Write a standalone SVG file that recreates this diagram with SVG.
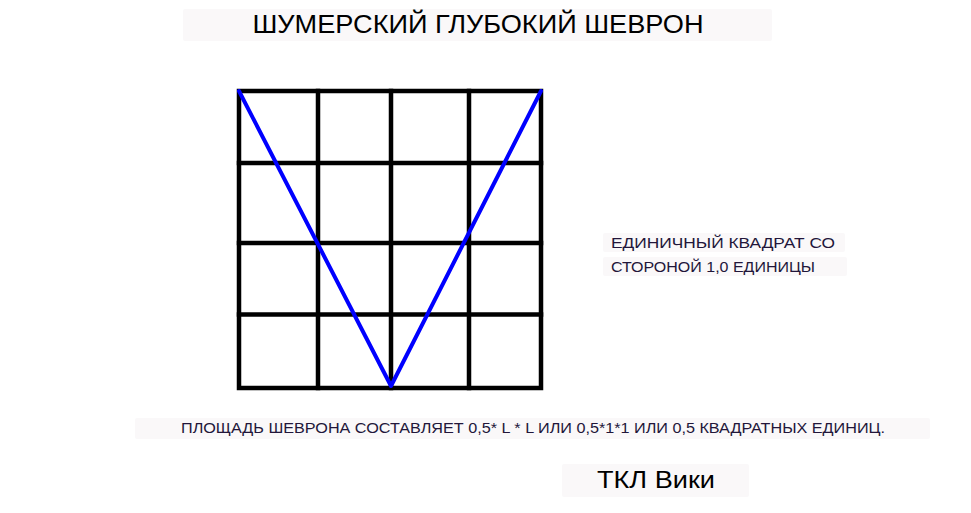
<svg xmlns="http://www.w3.org/2000/svg" width="971" height="513" viewBox="0 0 971 513">
<style>
.box{fill:#faf8f9;}
.grid{stroke:#000;stroke-width:4.5;fill:none;stroke-linecap:square;}
.chev{stroke:#0000ff;stroke-width:4;fill:none;stroke-linejoin:round;stroke-linecap:round;}
.t{font-family:"Liberation Sans",Arial,sans-serif;}
.lbl{fill:#22163a;font-size:15px;}
</style>
<rect width="971" height="513" fill="#fff"/>
<g id="title">
<rect class="box" x="183" y="9" width="589" height="32" rx="2"/>
<text class="t" x="478" y="33" font-size="26" text-anchor="middle" textLength="451" lengthAdjust="spacingAndGlyphs">ШУМЕРСКИЙ ГЛУБОКИЙ ШЕВРОН</text>
</g>
<g id="grid">
<rect class="grid" x="239" y="91" width="302" height="297"/>
<line class="grid" x1="318" y1="91" x2="318" y2="388"/>
<line class="grid" x1="391" y1="91" x2="391" y2="388"/>
<line class="grid" x1="469" y1="91" x2="469" y2="388"/>
<line class="grid" x1="239" y1="163" x2="541" y2="163"/>
<line class="grid" x1="239" y1="243" x2="541" y2="243"/>
<line class="grid" x1="239" y1="314.5" x2="541" y2="314.5"/>
</g>
<g id="connectors">
<polyline class="chev" points="239,91 391,386 541,91"/>
</g>
<g id="unit-label">
<rect class="box" x="603" y="233" width="242" height="19" rx="2"/>
<text class="t lbl" x="611" y="248" textLength="224" lengthAdjust="spacingAndGlyphs">ЕДИНИЧНЫЙ КВАДРАТ СО</text>
<rect class="box" x="603" y="257" width="244" height="19" rx="2"/>
<text class="t lbl" x="611" y="271.5" textLength="204" lengthAdjust="spacingAndGlyphs">СТОРОНОЙ 1,0 ЕДИНИЦЫ</text>
</g>
<g id="area-label">
<rect class="box" x="135" y="418" width="795" height="21" rx="2"/>
<text class="t lbl" x="181" y="433" textLength="704" lengthAdjust="spacingAndGlyphs">ПЛОЩАДЬ ШЕВРОНА СОСТАВЛЯЕТ 0,5* L * L ИЛИ 0,5*1*1 ИЛИ 0,5 КВАДРАТНЫХ ЕДИНИЦ.</text>
</g>
<g id="credit">
<rect class="box" x="562" y="464" width="187" height="33" rx="2"/>
<text class="t" x="597" y="488" font-size="24" textLength="118" lengthAdjust="spacingAndGlyphs">ТКЛ Вики</text>
</g>
</svg>
